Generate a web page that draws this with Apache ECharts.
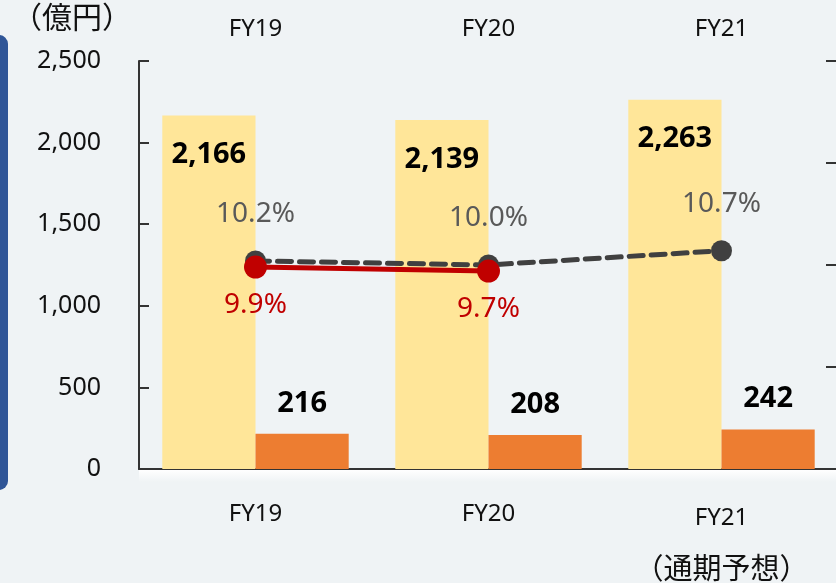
<!DOCTYPE html>
<html>
<head>
<meta charset="utf-8">
<script src="https://cdn.jsdelivr.net/npm/echarts@6/dist/echarts.min.js"></script>
<style>
  html, body { margin: 0; padding: 0; background: #eff3f5; }
  #main { width: 836px; height: 583px; }
</style>
</head>
<body>
<div id="main"></div>
<script>
const categories = ['FY19', 'FY20', 'FY21'];
const bottomLabels = ['FY19', 'FY20', 'FY21\n（通期予想）'];
const sales = [2166, 2139, 2263];
const profit = [216, 208, 242];
const marginPlan = [10.2, 10.0, 10.7];
const marginActual = [9.9, 9.7];

const font = "'Noto Sans', 'Noto Sans CJK JP', sans-serif";
const cjk = "'Noto Sans CJK JP', sans-serif";
const chart = echarts.init(document.getElementById('main'));

const option = {
  backgroundColor: '#eff3f5',
  animation: false,
  textStyle: { fontFamily: font },
  grid: { left: 139, top: 61, width: 699, height: 408, outerBoundsMode: 'none', containLabel: false },
  graphic: [
    // blue panel peeking from the left edge
    { type: 'rect', left: -10, top: 35, shape: { width: 18, height: 455, r: 9 }, style: { fill: '#2f5597' } },
    { type: 'text', left: 12, top: 2, style: { text: '（億円）', font: '30px ' + cjk, fill: '#111' } },
    // soft white strip under the axis
    {
      type: 'rect', left: 139, top: 470, shape: { width: 697, height: 12 },
      style: {
        fill: new echarts.graphic.LinearGradient(0, 0, 0, 1, [
          { offset: 0, color: 'rgba(255,255,255,1)' },
          { offset: 1, color: 'rgba(255,255,255,0)' }
        ])
      }
    }
  ],
  xAxis: [
    {
      type: 'category',
      data: bottomLabels,
      axisLine: { lineStyle: { color: '#333', width: 2 } },
      axisTick: { inside: true, length: 10, lineStyle: { color: '#111', width: 2 } },
      axisLabel: {
        interval: 0,
        hideOverlap: false,
        margin: 33,
        color: '#111',
        fontSize: 24,
        fontFamily: font,
        lineHeight: 24,
        formatter: function (v) {
          const parts = v.split('\n');
          if (parts.length > 1) return '{t|' + parts[0] + '}\n{p|' + parts[1] + '}';
          return v;
        },
        rich: {
          t: { fontSize: 24, lineHeight: 32, color: '#111', fontFamily: font },
          p: { fontSize: 29, lineHeight: 68, color: '#111', fontFamily: cjk }
        }
      }
    },
    {
      type: 'category',
      position: 'top',
      data: categories,
      axisLine: { show: false },
      axisTick: { show: false },
      axisLabel: { interval: 0, margin: 20, color: '#111', fontSize: 24, fontFamily: font }
    }
  ],
  yAxis: [
    {
      type: 'value',
      min: 0,
      max: 2500,
      interval: 500,
      splitLine: { show: false },
      axisLine: { show: true, lineStyle: { color: '#333', width: 2 } },
      axisTick: { show: true, inside: true, length: 10, lineStyle: { color: '#333', width: 2 } },
      axisLabel: {
        margin: 38,
        color: '#111',
        fontSize: 25,
        fontFamily: font,
        formatter: function (v) { return v.toLocaleString('en-US'); }
      }
    },
    {
      type: 'value',
      min: 0,
      max: 20,
      interval: 5,
      position: 'right',
      splitLine: { show: false },
      axisLine: { show: false },
      axisTick: { show: true, inside: true, length: 12, lineStyle: { color: '#333', width: 2 } },
      axisLabel: { show: false }
    }
  ],
  series: [
    {
      type: 'bar',
      data: sales,
      barWidth: '40%',
      barGap: '0%',
      itemStyle: { color: '#ffe699' },
      label: {
        show: true,
        position: 'insideTop',
        distance: 25,
        color: '#000',
        fontSize: 29,
        fontWeight: 'bold',
        fontFamily: font,
        formatter: function (p) { return p.value.toLocaleString('en-US'); }
      }
    },
    {
      type: 'bar',
      data: profit,
      barWidth: '40%',
      itemStyle: { color: '#ed7d31' },
      label: {
        show: true,
        position: 'top',
        distance: 16,
        color: '#000',
        fontSize: 29,
        fontWeight: 'bold',
        fontFamily: font
      }
    },
    {
      type: 'line',
      yAxisIndex: 1,
      data: marginPlan,
      symbol: 'circle',
      symbolSize: 21,
      itemStyle: { color: '#404040' },
      lineStyle: { color: '#404040', width: 5, type: [14, 8], cap: 'round' },
      label: {
        show: true,
        position: 'top',
        distance: 22,
        color: '#595959',
        fontSize: 28,
        fontFamily: font,
        formatter: function (p) { return p.value.toFixed(1) + '%'; }
      },
      z: 3
    },
    {
      type: 'line',
      yAxisIndex: 1,
      data: marginActual,
      symbol: 'circle',
      symbolSize: 23,
      itemStyle: { color: '#c00000' },
      lineStyle: { color: '#c00000', width: 5 },
      label: {
        show: true,
        position: 'bottom',
        distance: 12,
        color: '#c00000',
        fontSize: 28,
        fontFamily: font,
        formatter: function (p) { return p.value.toFixed(1) + '%'; }
      },
      z: 4
    }
  ]
};

chart.setOption(option);
</script>
</body>
</html>
